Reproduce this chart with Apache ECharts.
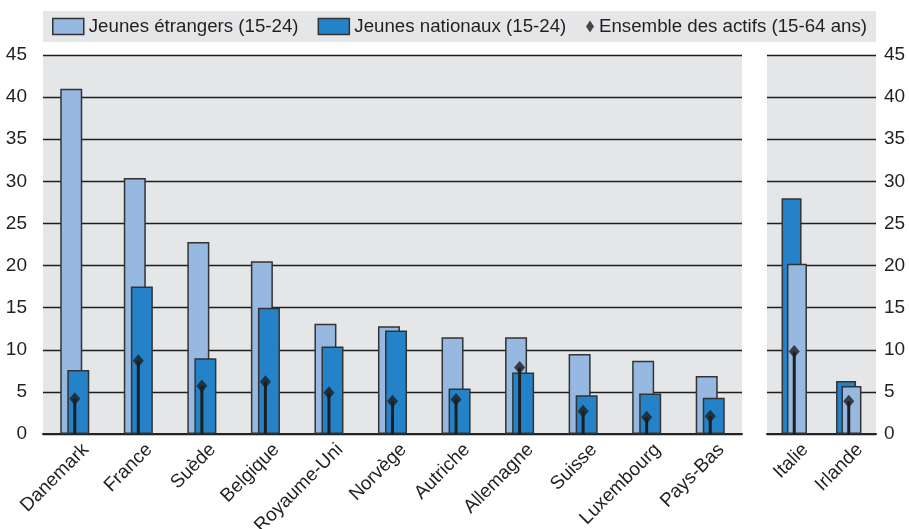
<!DOCTYPE html>
<html>
<head>
<meta charset="utf-8">
<style>
  html, body { margin: 0; padding: 0; background: #fff; }
  #chart { width: 909px; height: 529px; }
</style>
<script src="https://cdn.jsdelivr.net/npm/echarts@6/dist/echarts.min.js"></script>
</head>
<body>
<div id="chart"></div>
<script>
// panneau gauche
const paysGauche = ['Danemark', 'France', 'Suède', 'Belgique', 'Royaume-Uni', 'Norvège', 'Autriche', 'Allemagne', 'Suisse', 'Luxembourg', 'Pays-Bas']
const etrangersGauche = [41.0, 30.4, 22.8, 20.5, 13.1, 12.8, 11.5, 11.5, 9.5, 8.7, 6.9]
const nationauxGauche = [7.6, 17.5, 9.0, 15.0, 10.4, 12.3, 5.4, 7.3, 4.6, 4.8, 4.3]
const ensembleGauche = [4.2, 8.7, 5.7, 6.2, 4.9, 3.9, 4.1, 7.9, 2.7, 2.0, 2.1]

// panneau droit
const paysDroite = ['Italie', 'Irlande']
const etrangersDroite = [20.2, 5.7]
const nationauxDroite = [28.0, 6.3]
const ensembleDroite = [9.8, 3.9]

const yTicks = { min: 0, max: 45, interval: 5 }

const nomEtr = 'Jeunes étrangers (15-24)'
const nomNat = 'Jeunes nationaux (15-24)'
const nomEns = 'Ensemble des actifs (15-64 ans)'

const clair = '#97B8E1'
const fonce = '#2483C8'
const bord = '#333333'
const texte = '#231F20'
const fond = '#E5E6E8'
const police = 'Liberation Sans, Arial, sans-serif'

const chart = echarts.init(document.getElementById('chart'))

const xCat = (data, gridIndex, show) => ({
  type: 'category',
  data,
  gridIndex,
  show,
  axisLine: { show: true, lineStyle: { color: '#222', width: 2 } },
  axisTick: { show: false },
  axisLabel: {
    rotate: 45,
    margin: 9,
    align: 'right',
    verticalAlign: 'top',
    padding: [1, -5, 0, 0],
    fontSize: 19,
    fontFamily: police,
    color: texte,
    interval: 0
  }
})

const yVal = (gridIndex, position) => ({
  type: 'value',
  gridIndex,
  position,
  ...yTicks,
  axisLine: { show: false },
  axisTick: { show: false },
  axisLabel: {
    margin: position === 'left' ? 16 : 8,
    fontSize: 19,
    fontFamily: police,
    color: texte
  },
  splitLine: { lineStyle: { color: '#1e1e1e', width: 1.4 } }
})

const barre = (name, data, color, xi, yi, width, gap) => ({
  name,
  type: 'bar',
  data,
  xAxisIndex: xi,
  yAxisIndex: yi,
  barWidth: width,
  barGap: gap,
  itemStyle: { color, borderColor: bord, borderWidth: 1.5 }
})

const tige = (data, xi, yi) => ({
  type: 'bar',
  data,
  xAxisIndex: xi,
  yAxisIndex: yi,
  barWidth: 3,
  z: 3,
  itemStyle: { color: '#1e1e1e' },
  emphasis: { disabled: true }
})

const losange = (data, xi, yi) => ({
  name: nomEns,
  type: 'scatter',
  data,
  xAxisIndex: xi,
  yAxisIndex: yi,
  symbol: 'diamond',
  symbolSize: [11, 13],
  z: 4,
  itemStyle: { color: '#1e1e1e' }
})

const option = {
  animation: false,
  graphic: [{
    type: 'rect',
    shape: { x: 43, y: 11, width: 833, height: 31 },
    style: { fill: fond },
    z: -1
  }],
  legend: [{
    data: [nomEtr, nomNat],
    icon: 'rect',
    left: 52,
    top: 17,
    padding: 0,
    itemWidth: 31,
    itemHeight: 16,
    itemGap: 19,
    itemStyle: { borderColor: bord, borderWidth: 1.5 },
    textStyle: { fontSize: 18.7, color: texte, fontFamily: police }
  }, {
    data: [nomEns],
    left: 586,
    top: 17,
    padding: 0,
    itemWidth: 8,
    itemHeight: 12,
    textStyle: { fontSize: 18.7, color: texte, fontFamily: police }
  }],
  grid: [
    { left: 43, right: 167, top: 55, bottom: 95, show: true, backgroundColor: fond, borderWidth: 0, outerBoundsMode: 'none' },
    { left: 767, right: 33, top: 55, bottom: 95, show: true, backgroundColor: fond, borderWidth: 0, outerBoundsMode: 'none' }
  ],
  xAxis: [
    xCat(paysGauche, 0, true),
    xCat(paysGauche, 0, false),
    xCat(paysDroite, 1, true),
    xCat(paysDroite, 1, false)
  ],
  yAxis: [yVal(0, 'left'), yVal(1, 'right')],
  series: [
    barre(nomEtr, etrangersGauche, clair, 0, 0, 22, '-68%'),
    barre(nomNat, nationauxGauche, fonce, 0, 0, 22, '-68%'),
    barre(nomNat, nationauxDroite, fonce, 2, 1, 20, '-73%'),
    barre(nomEtr, etrangersDroite, clair, 2, 1, 20, '-73%'),
    tige(ensembleGauche, 1, 0),
    tige(ensembleDroite, 3, 1),
    losange(ensembleGauche, 0, 0),
    losange(ensembleDroite, 2, 1)
  ]
}

chart.setOption(option)
</script>
</body>
</html>
